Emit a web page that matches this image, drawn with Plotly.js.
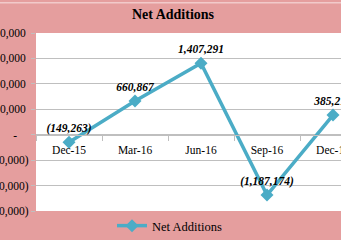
<!DOCTYPE html>
<html>
<head>
<meta charset="utf-8">
<script src="https://cdn.plot.ly/plotly-3.0.1.min.js"></script>
<style>
html,body{margin:0;padding:0;overflow:hidden;background:#E59E9E;}
#chart{width:341px;height:240px;}
</style>
</head>
<body>
<div id="chart"></div>
<script>
const categories = ["Dec-15", "Mar-16", "Jun-16", "Sep-16", "Dec-16"];
const netAdditions = [-149263, 660867, 1407291, -1187174, 385216];
const dataLabels = ["(149,263)", "660,867", "1,407,291", "(1,187,174)", "385,216"];
const yTickVals = [-1500000, -1000000, -500000, 0, 500000, 1000000, 1500000, 2000000];
const yTickText = ["(1,500,000)", "(1,000,000)", "(500,000)", "-\u00a0\u00a0\u00a0\u00a0", "500,000\u00a0", "1,000,000\u00a0", "1,500,000\u00a0", "2,000,000\u00a0"];

const serif = "Liberation Serif, Times New Roman, serif";
const lineColor = "#4BACC6";

const trace = {
  x: categories,
  y: netAdditions,
  name: "Net Additions",
  type: "scatter",
  mode: "lines+markers+text",
  text: dataLabels,
  textposition: "top center",
  textfont: {family: serif, size: 11.5, color: "#000", weight: "bold", style: "italic"},
  line: {color: lineColor, width: 3.5},
  marker: {symbol: "diamond", size: 10, color: lineColor},
  cliponaxis: false
};

const layout = {
  width: 341,
  height: 240,
  margin: {l: 36, r: 0, t: 33, b: 25, pad: 0},
  paper_bgcolor: "#E59E9E",
  plot_bgcolor: "#FFFFFF",
  showlegend: true,
  title: {
    text: "<b>Net Additions</b>",
    font: {family: serif, size: 14, color: "#000"},
    xref: "container", x: 173/341, xanchor: "center",
    yref: "container", y: 1 - 14/240, yanchor: "middle"
  },
  xaxis: {
    type: "category",
    range: [-0.5, -0.5 + 305/66],
    anchor: "free",
    position: 3/7,
    tickson: "boundaries",
    ticks: "outside",
    ticklen: 5,
    tickcolor: "#BFBFBF",
    ticklabelstandoff: 4,
    showgrid: false,
    showline: true,
    linecolor: "#BFBFBF",
    linewidth: 1,
    tickfont: {family: serif, size: 11.5, color: "#000"},
    automargin: false,
    fixedrange: true
  },
  yaxis: {
    range: [-1500000, 2000000],
    tickvals: yTickVals,
    ticktext: yTickText,
    ticks: "outside",
    ticklen: 4,
    tickcolor: "#BFBFBF",
    showgrid: true,
    gridcolor: "#BFBFBF",
    gridwidth: 1,
    zeroline: false,
    showline: false,
    tickfont: {family: serif, size: 11.5, color: "#000"},
    automargin: false,
    fixedrange: true
  },
  legend: {
    orientation: "h",
    xref: "container", x: 112/341, xanchor: "left",
    yref: "container", y: 1 - 226/240, yanchor: "middle",
    bgcolor: "rgba(0,0,0,0)",
    font: {family: serif, size: 12.5, color: "#000"}
  },
  shapes: [{
    type: "line", xref: "paper", yref: "paper",
    x0: -0.2, x1: 1.1, y0: (215 - 2) / 182, y1: (215 - 2) / 182,
    line: {color: "#F2CACA", width: 1.5}
  }]
};

Plotly.newPlot("chart", [trace], layout, {displayModeBar: false, staticPlot: true});
</script>
</body>
</html>
